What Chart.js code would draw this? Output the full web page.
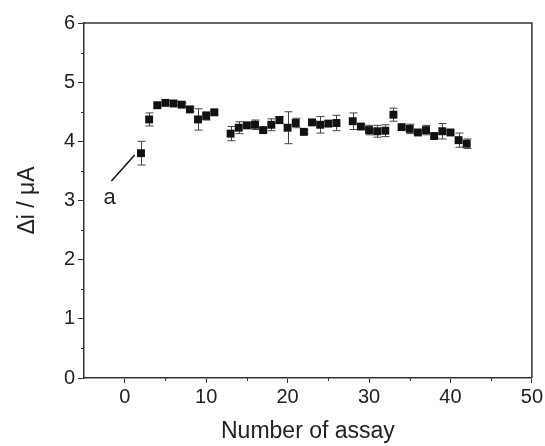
<!DOCTYPE html>
<html>
<head>
<meta charset="utf-8">
<script src="https://cdn.jsdelivr.net/npm/chart.js@4"></script>
<style>
  html, body { margin: 0; padding: 0; background: #fff; }
  #wrap { width: 545px; height: 446px; }
</style>
</head>
<body>
<div id="wrap"><canvas id="grafica"></canvas></div>
<script>
// numero de ensayo y respuesta (delta i, uA) con su error
const ensayos = [2, 3, 4, 5, 6, 7, 8, 9, 10, 11,
  13, 14, 15, 16, 17, 18, 19, 20, 21, 22, 23, 24, 25, 26,
  28, 29, 30, 31, 32, 33, 34, 35, 36, 37, 38, 39, 40, 41, 42];
const respuesta = [3.80, 4.37, 4.61, 4.65, 4.64, 4.62, 4.54, 4.37, 4.43, 4.49,
  4.13, 4.23, 4.27, 4.28, 4.19, 4.28, 4.36, 4.23, 4.31, 4.16, 4.32, 4.28, 4.30, 4.31,
  4.34, 4.25, 4.19, 4.17, 4.18, 4.45, 4.24, 4.21, 4.15, 4.19, 4.09, 4.17, 4.15, 4.02, 3.96];
const errores = [0.20, 0.11, 0.04, 0.03, 0.03, 0.03, 0.04, 0.18, 0.07, 0.03,
  0.12, 0.10, 0.04, 0.08, 0.03, 0.10, 0.06, 0.27, 0.08, 0.03, 0.03, 0.14, 0.05, 0.13,
  0.14, 0.04, 0.08, 0.10, 0.10, 0.11, 0.03, 0.08, 0.03, 0.08, 0.03, 0.13, 0.03, 0.12, 0.08];

// etiqueta "a" con su linea
const etiquetaTexto = 'a';
const etiquetaPos = [-1.85, 3.04];
const lineaDesde = [-1.63, 3.33];
const lineaHasta = [1.22, 3.77];

const colorEje = '#333';
const fuente = 'Liberation Sans, Arial, sans-serif';

const puntos = ensayos.map((x, i) => ({ x: x, y: respuesta[i] }));

const barrasError = {
  id: 'barrasError',
  beforeDatasetsDraw(chart) {
    const { ctx, scales: { x, y } } = chart;
    ctx.save();
    ctx.strokeStyle = '#444';
    ctx.lineWidth = 1;
    ensayos.forEach((e, i) => {
      const px = Math.round(x.getPixelForValue(e)) + 0.5;
      const top = y.getPixelForValue(respuesta[i] + errores[i]);
      const bot = y.getPixelForValue(respuesta[i] - errores[i]);
      ctx.beginPath();
      ctx.moveTo(px, top);
      ctx.lineTo(px, bot);
      ctx.moveTo(px - 4, top);
      ctx.lineTo(px + 4, top);
      ctx.moveTo(px - 4, bot);
      ctx.lineTo(px + 4, bot);
      ctx.stroke();
    });
    ctx.restore();
  }
};

const marcoYMenores = {
  id: 'marcoYMenores',
  afterDraw(chart) {
    const { ctx, chartArea: a, scales: { x, y } } = chart;
    ctx.save();
    ctx.strokeStyle = colorEje;
    ctx.lineWidth = 1.5;
    ctx.beginPath();
    ctx.moveTo(a.left, a.top);
    ctx.lineTo(a.right, a.top);
    ctx.lineTo(a.right, a.bottom);
    ctx.stroke();
    // ticks menores
    ctx.lineWidth = 1;
    x.ticks.forEach(t => {
      if (t.value % 10 !== 0 && t.value > x.min) {
        const px = Math.round(x.getPixelForValue(t.value)) + 0.5;
        ctx.beginPath();
        ctx.moveTo(px, a.bottom);
        ctx.lineTo(px, a.bottom + 3);
        ctx.stroke();
      }
    });
    y.ticks.forEach(t => {
      if (!Number.isInteger(t.value)) {
        const py = Math.round(y.getPixelForValue(t.value)) + 0.5;
        ctx.beginPath();
        ctx.moveTo(a.left, py);
        ctx.lineTo(a.left - 3, py);
        ctx.stroke();
      }
    });
    // etiqueta a
    ctx.strokeStyle = '#111';
    ctx.lineWidth = 1.5;
    ctx.beginPath();
    ctx.moveTo(x.getPixelForValue(lineaDesde[0]), y.getPixelForValue(lineaDesde[1]));
    ctx.lineTo(x.getPixelForValue(lineaHasta[0]), y.getPixelForValue(lineaHasta[1]));
    ctx.stroke();
    ctx.fillStyle = '#222';
    ctx.font = '22px ' + fuente;
    ctx.textAlign = 'center';
    ctx.textBaseline = 'middle';
    ctx.fillText(etiquetaTexto, x.getPixelForValue(etiquetaPos[0]), y.getPixelForValue(etiquetaPos[1]));
    ctx.restore();
  }
};

const ctx = document.getElementById('grafica').getContext('2d');
const grafica = new Chart(ctx, {
  type: 'scatter',
  data: {
    datasets: [{
      data: puntos,
      pointStyle: 'rect',
      pointRadius: 5.6,
      pointHoverRadius: 5.6,
      backgroundColor: '#111',
      borderColor: '#111',
      borderWidth: 0
    }]
  },
  options: {
    responsive: true,
    maintainAspectRatio: false,
    animation: false,
    layout: { padding: { top: 23, right: 12, left: 0, bottom: 0 } },
    plugins: { legend: { display: false }, tooltip: { enabled: false } },
    scales: {
      x: {
        type: 'linear',
        min: -5,
        max: 50,
        afterFit(scale) { scale.height = 68; },
        border: { color: colorEje, width: 1.5 },
        grid: {
          drawOnChartArea: false,
          tickLength: 5,
          tickColor: c => (c.tick && c.tick.value % 10 === 0) ? colorEje : 'rgba(0,0,0,0)'
        },
        ticks: {
          stepSize: 5,
          padding: 2,
          color: '#222',
          font: { family: fuente, size: 20 },
          maxRotation: 0,
          autoSkip: false,
          callback: v => v % 10 === 0 ? v : ''
        },
        title: {
          display: true,
          text: 'Number of assay',
          color: '#222',
          font: { family: fuente, size: 23 },
          padding: { top: 0, bottom: 1 }
        }
      },
      y: {
        type: 'linear',
        min: 0,
        max: 6,
        afterFit(scale) { scale.width = 84; },
        border: { color: colorEje, width: 1.5 },
        grid: {
          drawOnChartArea: false,
          tickLength: 6,
          tickColor: c => (c.tick && Number.isInteger(c.tick.value)) ? colorEje : 'rgba(0,0,0,0)'
        },
        ticks: {
          stepSize: 0.5,
          padding: 3,
          color: '#222',
          font: { family: fuente, size: 20 },
          autoSkip: false,
          callback: v => Number.isInteger(v) ? v : ''
        },
        title: {
          display: true,
          text: 'Δi / μA',
          color: '#222',
          font: { family: fuente, size: 23 },
          padding: { top: 14, bottom: 0 }
        }
      }
    }
  },
  plugins: [barrasError, marcoYMenores]
});
</script>
</body>
</html>
